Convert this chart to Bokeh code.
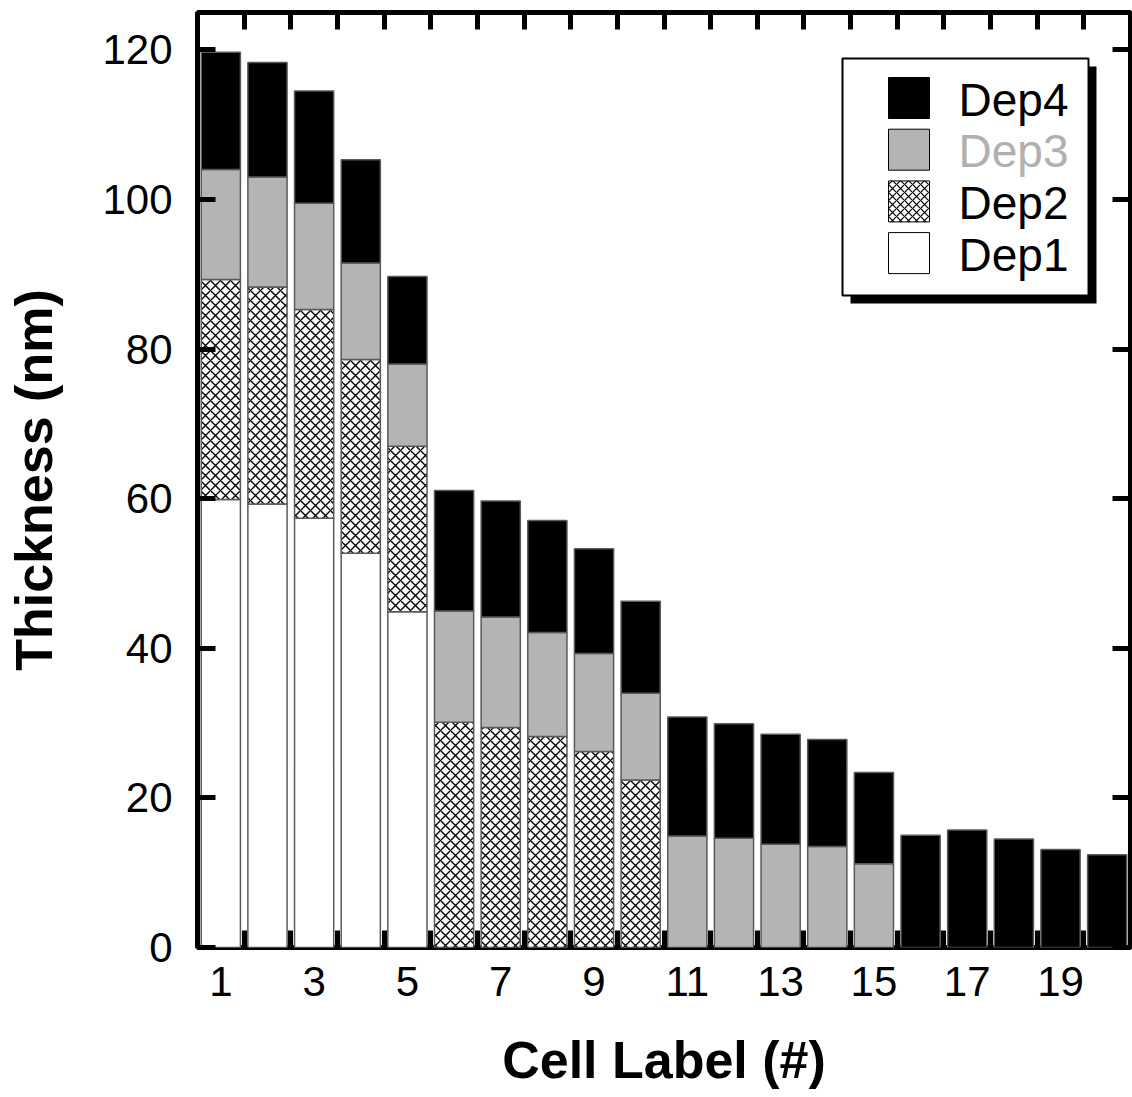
import numpy as np
from bokeh.plotting import figure
from bokeh.models import FixedTicker, LinearAxis, Range1d, ColumnDataSource
from bokeh.core.properties import value
from bokeh.embed import file_html
from bokeh.resources import INLINE

# ---------------- data ----------------
cells = [1, 2, 3, 4, 5, 6, 7, 8, 9, 10, 11, 12, 13, 14, 15, 16, 17, 18, 19, 20]
dep1 = [59.9, 59.3, 57.4, 52.7, 44.9, 0, 0, 0, 0, 0, 0, 0, 0, 0, 0, 0, 0, 0, 0, 0]
dep2 = [29.4, 29.0, 27.9, 25.9, 22.1, 30.1, 29.4, 28.2, 26.2, 22.4, 0, 0, 0, 0, 0, 0, 0, 0, 0, 0]
dep3 = [14.7, 14.7, 14.2, 12.9, 11.0, 14.9, 14.8, 13.9, 13.1, 11.6, 14.9, 14.6, 13.8, 13.5, 11.2, 0, 0, 0, 0, 0]
dep4 = [15.7, 15.3, 15.0, 13.8, 11.7, 16.1, 15.5, 15.0, 14.0, 12.3, 15.9, 15.3, 14.7, 14.3, 12.2, 15.0, 15.7, 14.5, 13.1, 12.4]
series_names = ["Dep1", "Dep2", "Dep3", "Dep4"]
x_tick_labels = [1, 3, 5, 7, 9, 11, 13, 15, 17, 19]
x_minor_ticks = [1.5, 2.5, 3.5, 4.5, 5.5, 6.5, 7.5, 8.5, 9.5, 10.5, 11.5, 12.5, 13.5, 14.5, 15.5, 16.5, 17.5, 18.5, 19.5]
y_ticks = [0, 20, 40, 60, 80, 100, 120]

# ---------------- styles ----------------
X0, X1, Y0, Y1 = 0.5, 20.5, 0, 125
W, H = 1132, 1097
FL, FR, FT, FB = 197, 2, 12, 150
FW, FH = W - FL - FR, H - FT - FB
FONT = "Liberation Sans"
fills = {"Dep1": "white", "Dep2": "white", "Dep3": "#b4b4b4", "Dep4": "black"}
hatches = {"Dep1": " ", "Dep2": "x", "Dep3": " ", "Dep4": " "}
text_cols = {"Dep1": "black", "Dep2": "black", "Dep3": "#b0b0b0", "Dep4": "black"}
BAR_W = 0.84
EDGE = "#5a5a5a"

p = figure(width=W, height=H, x_range=Range1d(X0, X1), y_range=Range1d(Y0, Y1),
           output_backend="svg", toolbar_location=None,
           min_border_left=FL, min_border_right=FR, min_border_top=FT, min_border_bottom=FB)
p.background_fill_color = "white"
p.border_fill_color = "white"
p.xgrid.visible = False
p.ygrid.visible = False
p.outline_line_color = "black"
p.outline_line_width = 5
p.outline_line_alpha = 1.0

# ---------------- stacked bars ----------------
data = {"Dep1": dep1, "Dep2": dep2, "Dep3": dep3, "Dep4": dep4}
bottom = np.zeros(len(cells))
for name in series_names:
    vals = np.array(data[name], dtype=float)
    top = bottom + vals
    mask = vals > 0
    src = ColumnDataSource(dict(x=np.array(cells)[mask], b=bottom[mask], t=top[mask]))
    p.vbar(x="x", bottom="b", top="t", width=BAR_W, source=src,
           fill_color=fills[name], line_color=EDGE, line_width=1.5,
           hatch_pattern=hatches[name], hatch_color="black", hatch_scale=10, hatch_weight=1.4)
    bottom = top

# ---------------- axes ----------------
xt = FixedTicker(ticks=x_tick_labels, minor_ticks=x_minor_ticks)
yt = FixedTicker(ticks=y_ticks)

def style_axis(ax, labels=True):
    ax.axis_line_color = None
    if labels:
        ax.major_label_text_font = FONT
        ax.major_label_text_font_size = "42px"
        ax.major_label_text_color = "black"
    else:
        ax.major_label_text_font_size = "0px"
        ax.major_label_text_color = None
        ax.major_label_standoff = 0

xb = p.xaxis[0]
xb.ticker = xt
style_axis(xb)
xb.major_tick_line_color = None
xb.major_tick_in = 0
xb.major_tick_out = 0
xb.minor_tick_line_color = "black"
xb.minor_tick_line_width = 5
xb.minor_tick_in = 17
xb.minor_tick_out = 0
xb.major_label_standoff = 19
xb.axis_label = "Cell Label (#)"
xb.axis_label_text_font = FONT
xb.axis_label_text_font_size = "52px"
xb.axis_label_text_font_style = "bold"
xb.axis_label_text_color = "black"
xb.axis_label_standoff = 32

yl = p.yaxis[0]
yl.ticker = yt
style_axis(yl)
yl.major_tick_line_color = "black"
yl.major_tick_line_width = 5
yl.major_tick_in = 18
yl.major_tick_out = 0
yl.minor_tick_line_color = None
yl.major_label_standoff = 25
yl.axis_label = "Thickness (nm)"
yl.axis_label_text_font = FONT
yl.axis_label_text_font_size = "52px"
yl.axis_label_text_font_style = "bold"
yl.axis_label_text_color = "black"
yl.axis_label_standoff = 36

xtop = LinearAxis(ticker=FixedTicker(ticks=x_tick_labels, minor_ticks=x_minor_ticks))
style_axis(xtop, labels=False)
xtop.major_tick_line_color = None
xtop.major_tick_in = 0
xtop.major_tick_out = 0
xtop.minor_tick_line_color = "black"
xtop.minor_tick_line_width = 5
xtop.minor_tick_in = 17
xtop.minor_tick_out = 0
p.add_layout(xtop, "above")

yr = LinearAxis(ticker=FixedTicker(ticks=y_ticks))
style_axis(yr, labels=False)
yr.major_tick_line_color = "black"
yr.major_tick_line_width = 5
yr.major_tick_in = 18
yr.major_tick_out = 0
yr.minor_tick_line_color = None
p.add_layout(yr, "right")

# ---------------- legend (drawn by hand, positions in screen px -> data) ----------------
def dx(px):
    return X0 + (px - FL) / FW * (X1 - X0)

def dy(py):
    return Y1 - (py - FT) / FH * (Y1 - Y0)

LB_L, LB_R, LB_T, LB_B = 842, 1088, 58, 295
SH = 8
p.quad(left=dx(LB_L + SH), right=dx(LB_R + SH), top=dy(LB_T + SH), bottom=dy(LB_B + SH),
       fill_color="black", line_color=None)
p.quad(left=dx(LB_L), right=dx(LB_R), top=dy(LB_T), bottom=dy(LB_B),
       fill_color="white", line_color="black", line_width=2)

leg_order = ["Dep4", "Dep3", "Dep2", "Dep1"]
ROW0, PITCH, SW = 77, 51.7, 41
SW_L, TXT_L = 888, 958
lsrc = ColumnDataSource(dict(
    l=[dx(SW_L)] * 4, r=[dx(SW_L + SW)] * 4,
    t=[dy(ROW0 + i * PITCH) for i in range(4)],
    b=[dy(ROW0 + i * PITCH + SW) for i in range(4)],
    fc=[fills[n] for n in leg_order],
    hp=[hatches[n] for n in leg_order],
    tx=[dx(TXT_L)] * 4,
    ty=[dy(ROW0 + i * PITCH + SW / 2 + 1.5) for i in range(4)],
    txt=leg_order,
    tc=[text_cols[n] for n in leg_order],
))
p.quad(left="l", right="r", top="t", bottom="b", source=lsrc, fill_color="fc",
       hatch_pattern="hp", hatch_color="black", hatch_scale=8, hatch_weight=1.2,
       line_color="black", line_width=1)
p.text(x="tx", y="ty", text="txt", source=lsrc, text_color="tc",
       text_font=value(FONT), text_font_size="46px",
       text_baseline="middle", text_align="left")

open("out.html", "w").write(file_html(p, INLINE))
